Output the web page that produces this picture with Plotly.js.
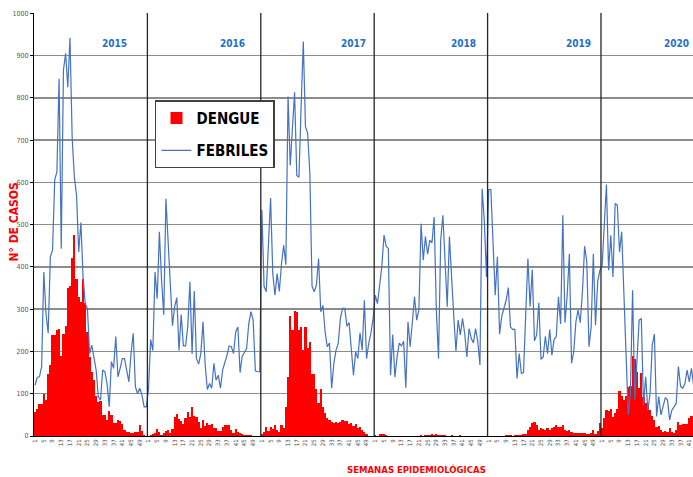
<!DOCTYPE html>
<html>
<head>
<meta charset="utf-8">
<script src="https://cdn.plot.ly/plotly-3.0.1.min.js"></script>
<style>html,body{margin:0;padding:0;background:#fff;}#chart{width:693px;height:477px;}</style>
</head>
<body>
<div id="chart"></div>
<script>
const years = ['2015', '2016', '2017', '2018', '2019', '2020'];
const weekLabels = [1, 5, 9, 13, 17, 21, 25, 29, 33, 37, 41, 45, 49];
const seriesNames = ['DENGUE', 'FEBRILES'];

const dengue2015 = [57,64,76,76,99,85,146,169,238,238,250,253,190,242,261,351,354,422,475,371,328,317,372,314,246,187,152,132,94,81,83,50,50,39,59,50,31,30,39,35,28,14,9,9,7,7,9,10,26,12,2,1];
const dengue2016 = [0,2,4,8,17,10,2,8,12,15,6,16,45,52,40,36,28,43,56,46,68,48,46,33,19,38,24,30,25,29,20,20,12,11,22,25,25,25,15,8,16,10,6,4,3,2,2,2,1,1,1,0];
const dengue2017 = [5,10,22,12,22,17,26,15,10,25,18,69,140,283,250,296,294,250,258,203,258,209,223,146,146,110,77,110,69,55,42,38,34,30,34,30,32,38,36,36,28,30,24,28,18,22,14,10,5,0,0,0];
const dengue2018 = [2,1,4,5,5,3,1,1,1,0,1,0,1,1,1,0,1,1,1,1,1,2,1,2,3,2,4,3,4,2,3,3,2,1,1,2,1,1,1,2,1,1,1,1,1,1,1,1,1,1,1,1];
const dengue2019 = [0,0,1,1,1,1,1,1,2,3,2,1,2,2,3,3,4,4,14,22,30,32,26,14,18,16,14,18,14,18,22,26,22,22,26,14,12,14,10,6,8,6,6,8,6,4,4,6,14,5,13,30];
const dengue2020 = [18,43,61,60,63,44,55,63,106,95,85,94,117,118,190,183,152,113,148,93,77,68,61,47,38,22,24,14,10,12,9,20,9,8,14,34,26,28,28,28,42,47,52];

const febriles2015 = [120,139,140,164,388,290,243,424,440,605,625,845,443,865,905,825,942,707,613,570,435,505,376,313,302,195,215,187,156,93,85,156,152,124,69,176,160,235,140,160,183,183,156,128,195,243,117,100,113,97,69,69];
const febriles2016 = [110,228,202,388,325,483,368,287,561,467,345,261,306,327,202,287,213,213,258,365,194,343,183,170,195,270,168,110,124,113,172,132,144,113,156,172,191,213,211,195,246,258,150,189,199,207,266,294,274,154,152,152];
const febriles2017 = [535,354,341,450,563,384,333,384,342,408,451,405,803,640,720,813,616,612,780,933,731,716,620,354,341,357,420,294,309,246,211,220,113,172,203,219,278,302,302,260,268,211,144,199,183,244,203,321,183,219,243,278];
const febriles2018 = [333,313,360,400,475,449,443,144,240,139,187,220,213,224,114,270,211,266,329,274,298,502,416,472,430,463,457,518,298,183,463,522,408,306,472,368,282,201,274,239,278,243,187,254,231,220,254,223,168,585,510,376];
const febriles2019 = [583,583,460,333,424,241,283,302,321,351,258,252,252,136,195,148,150,290,420,306,394,225,239,315,181,187,236,195,252,191,228,235,329,265,522,268,333,431,172,199,270,298,268,341,449,412,211,258,431,262,365,392];
const febriles2020 = [400,498,595,392,475,376,550,546,435,483,340,195,50,100,345,85,170,274,278,73,140,60,100,215,241,46,93,50,70,91,85,38,61,69,77,164,117,113,124,156,128,160,118];

const dengueByYear = [dengue2015, dengue2016, dengue2017, dengue2018, dengue2019, dengue2020];
const febrilesByYear = [febriles2015, febriles2016, febriles2017, febriles2018, febriles2019, febriles2020];

const dengue = [].concat(...dengueByYear);
const febriles = [].concat(...febrilesByYear);
const xs = dengue.map((_, i) => i);

const yearStarts = [];
let acc = 0;
dengueByYear.forEach(a => { yearStarts.push(acc); acc += a.length; });
const total = acc;

const tickvals = [], ticktext = [];
yearStarts.forEach(s => {
  weekLabels.forEach(w => {
    if (s + w - 1 < total) { tickvals.push(s + w - 1); ticktext.push(String(w)); }
  });
});

const NARROW = '"Liberation Sans Narrow", "DejaVu Sans Condensed", "Arial Narrow", Arial, sans-serif';

const shapes = yearStarts.slice(1).map(s => ({
  type: 'line', xref: 'x', yref: 'paper', x0: s - 0.5, x1: s - 0.5, y0: 0, y1: 1,
  line: {color: '#262626', width: 1.3}
}));

const yearLabelX = [0.1229, 0.3005, 0.4841, 0.651, 0.8255, 0.9975];
const yearLabelAnchor = ['center', 'center', 'center', 'center', 'center', 'right'];
const annotations = years.map((y, k) => ({
  text: y, xref: 'paper', yref: 'paper', x: yearLabelX[k], y: 0.929,
  xanchor: yearLabelAnchor[k], yanchor: 'middle', showarrow: false,
  font: {family: NARROW, size: 10, color: '#1F6FC8', weight: 'bold'}
}));
annotations.push({
  text: 'N° DE CASOS', xref: 'paper', yref: 'paper', x: -0.031, y: 0.506,
  xanchor: 'center', yanchor: 'middle', textangle: -90, showarrow: false,
  font: {family: NARROW, size: 12, color: '#FF0000', weight: 'bold'}
});
annotations.push({
  text: 'SEMANAS EPIDEMIOLÓGICAS', xref: 'paper', yref: 'paper', x: 0.5797, y: -0.080,
  xanchor: 'center', yanchor: 'middle', showarrow: false,
  font: {family: NARROW, size: 9.5, color: '#FF0000', weight: 'bold'}
});

const traces = [
  {type: 'bar', x: xs, y: dengue, name: seriesNames[0], legendgroup: 'a',
   marker: {color: '#FF0000', line: {width: 0}}},
  {type: 'scatter', mode: 'lines', x: xs, y: febriles, name: seriesNames[1], legendgroup: 'b',
   line: {color: '#4472C4', width: 1.2}}
];

const layout = {
  width: 693, height: 477,
  margin: {l: 34, r: 0, t: 13, b: 41, pad: 0},
  paper_bgcolor: '#ffffff', plot_bgcolor: '#ffffff',
  bargap: 0,
  showlegend: true,
  legend: {
    x: 0.1836, y: 0.794, xanchor: 'left', yanchor: 'top',
    bgcolor: '#ffffff', bordercolor: '#404040', borderwidth: 1.5,
    font: {family: NARROW, size: 15, color: '#000000', weight: 'bold'},
    traceorder: 'grouped', tracegroupgap: 10, itemwidth: 30
  },
  xaxis: {
    range: [-0.5, 301.7], tickmode: 'array', tickvals: tickvals, ticktext: ticktext,
    tickangle: -90, tickfont: {family: NARROW, size: 6, color: '#404040'},
    showgrid: false, zeroline: false, showline: true, linecolor: '#000000', linewidth: 1,
    ticks: '', fixedrange: true
  },
  yaxis: {
    range: [0, 1000.5], dtick: 100, tick0: 0,
    tickfont: {family: NARROW, size: 7, color: '#595959'},
    showgrid: true, gridcolor: '#8c8c8c', gridwidth: 1.5, zeroline: false,
    showline: true, linecolor: '#000000', linewidth: 1,
    ticks: 'outside', ticklen: 3, tickcolor: '#000000', tickwidth: 1
  },
  shapes: shapes,
  annotations: annotations
};

Plotly.newPlot('chart', traces, layout, {displayModeBar: false, staticPlot: true});
</script>
</body>
</html>
